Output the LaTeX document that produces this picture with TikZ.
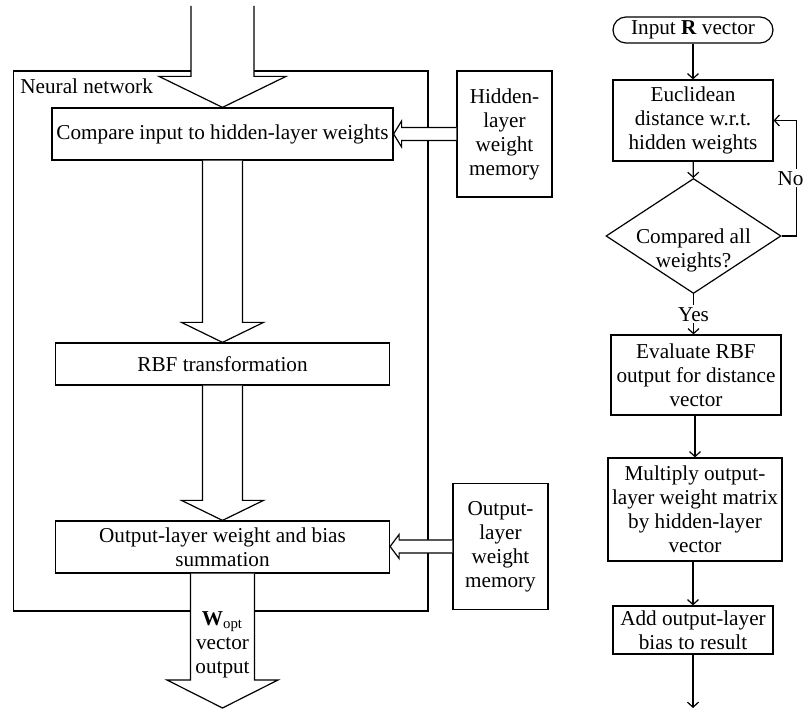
\documentclass[tikz,border=0pt]{standalone}
\usepackage{fontspec}
\setmainfont{Liberation Serif}
\usepackage{tikz}
\usetikzlibrary{shapes.geometric, arrows.meta, positioning, calc}
\tikzset{
  block/.style={rectangle, draw, fill=white, align=center,
    inner sep=1pt, line width=0.6pt},
  memory/.style={block, minimum width=47.5pt, minimum height=63pt},
  term/.style={rectangle, draw, fill=white, rounded corners=6.5pt,
    minimum width=80pt, minimum height=13pt, inner sep=1pt, line width=0.6pt},
  decision/.style={diamond, draw, fill=white, inner sep=0pt,
    minimum width=87.5pt, minimum height=57.5pt, line width=0.6pt},
  flow/.style={-{Straight Barb[length=2.5pt,width=5.5pt]}, line width=0.6pt},
  wide/.style={draw, fill=white, line width=0.6pt, line join=miter}
}
% hollow block arrows: from, to, shaft half width, head half width, head length
\newcommand{\blockdown}[5]{%
  \draw[wide] let \p1=(#1), \p2=(#2) in
    (\x1-#3,\y1) -- (\x1-#3,\y2+#5) -- (\x1-#4,\y2+#5) -- (\x1,\y2)
    -- (\x1+#4,\y2+#5) -- (\x1+#3,\y2+#5) -- (\x1+#3,\y1);}
\newcommand{\blockleft}[5]{%
  \draw[wide] let \p1=(#1), \p2=(#2) in
    (\x1,\y1+#3) -- (\x2+#5,\y1+#3) -- (\x2+#5,\y1+#4) -- (\x2,\y1)
    -- (\x2+#5,\y1-#4) -- (\x2+#5,\y1-#3) -- (\x1,\y1-#3);}

\begin{document}
\begin{tikzpicture}[x=0.5pt, y=-0.5pt, font=\fontsize{10.6}{12}\selectfont]
  \useasboundingbox (0,0) rectangle (804,710);

  % neural network frame
  \node (nn) [draw, line width=0.6pt, minimum width=207.25pt, minimum height=270pt,
    inner sep=0pt] at (220.75,341) {};
  \node (nnlbl) [anchor=west, inner sep=0pt] at (20,86) {Neural network};

  % left column
  \coordinate (in) at (222.5,6);
  \coordinate (out) at (222.5,708);
  \node (cmp) [block, minimum width=170.5pt, minimum height=26pt] at (222.5,134)
    {Compare input to hidden-layer weights};
  \node (rbf) [block, minimum width=167pt, minimum height=21pt] at (222.5,364)
    {RBF transformation};
  \node (sum) [block, minimum width=167pt, minimum height=26pt] at (222.5,547)
    {Output-layer weight and bias\\summation};
  \node (hmem) [memory] at (504.5,134) {Hidden-\\layer\\weight\\memory};
  \node (omem) [memory] at (500.5,546.5) {Output-\\layer\\weight\\memory};

  \blockdown{in}{cmp.north}{15.75pt}{31.75pt}{15.5pt}
  \blockdown{cmp.south}{rbf.north}{10pt}{20.5pt}{10pt}
  \blockdown{rbf.south}{sum.north}{10pt}{20.5pt}{10pt}
  \blockdown{sum.south}{out}{16pt}{27.75pt}{14pt}
  \blockleft{hmem.west}{cmp.east}{3.25pt}{6.5pt}{4pt}
  \blockleft{omem.west}{sum.east}{3.25pt}{6pt}{4.5pt}
  \node (wlbl) [align=center, inner sep=0pt] at (222.5,645)
    {\textbf{W}\textsubscript{opt}\\vector\\output};

  % right flowchart
  \node (inR) [term] at (693,30) {Input \textbf{R} vector};
  \node (euc) [block, minimum width=80pt, minimum height=40.5pt] at (693,120.5)
    {Euclidean\\distance w.r.t.\\hidden weights};
  \node (cmpall) [decision] at (693.5,236) {};
  \node (cmptxt) [align=center, inner sep=0pt] at (693.5,250) {Compared all\\weights?};
  \node (evl) [block, minimum width=85pt, minimum height=40pt] at (696,375)
    {Evaluate RBF\\output for distance\\vector};
  \node (mul) [block, minimum width=87pt, minimum height=51.5pt] at (695,509.5)
    {Multiply output-\\layer weight matrix\\by hidden-layer\\vector};
  \node (addb) [block, minimum width=80pt, minimum height=24pt] at (693,630)
    {Add output-layer\\bias to result};
  \coordinate (end) at (693,708);

  \draw[flow] (inR) -- (euc);
  \draw[flow] (euc) -- (cmpall);
  \draw[flow] (cmpall.east) -- ++(15,0) |- node[pos=0.25, fill=white, inner sep=1pt,
    xshift=-3pt] (nolbl) {No} (euc.east);
  \draw[flow] (cmpall.south) -- node[fill=white, inner sep=1pt] (yeslbl) {Yes}
    (cmpall.south |- evl.north);
  \draw[flow] (evl.south -| mul.north) -- (mul);
  \draw[flow] (mul.south -| addb.north) -- (addb);
  \draw[flow] (addb) -- (end);
\end{tikzpicture}
\end{document}
